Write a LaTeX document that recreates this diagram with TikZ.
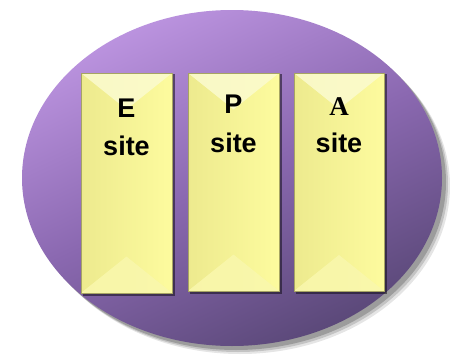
\documentclass[tikz,border=0pt]{standalone}
\usepackage{fontspec}
\setmainfont{Liberation Sans}
\newfontfamily\serifbold{Liberation Serif}
\begin{document}
\begin{tikzpicture}[x=1pt,y=1pt,
  sitebox/.style={inner sep=0pt, outer sep=0pt},
  lbl/.style={anchor=base, inner sep=0pt, font=\fontsize{27}{30}\selectfont\bfseries},
  lblserif/.style={anchor=base, inner sep=0pt, font=\fontsize{27}{30}\selectfont\serifbold\bfseries}]
\useasboundingbox (0,0) rectangle (450,360);
\definecolor{purL}{HTML}{BC94E0}
\definecolor{purM}{HTML}{8A68B0}
\definecolor{purD}{HTML}{5A4878}
\definecolor{yelL}{HTML}{EDEA8E}
\definecolor{yelR}{HTML}{FDFB9E}
\definecolor{yelT}{HTML}{FBFBD0}
\definecolor{yelB}{HTML}{F9F7AC}
% ellipse shadow
\foreach \o/\a in {6/0.10,4/0.15,2/0.2}{
  \fill[black,opacity=\a] (234+\o,180-\o) ellipse [x radius=210, y radius=168];
}
% ellipse body
\shade[top color=purL, bottom color=purD, middle color=purM, shading angle=25]
  (232,182) ellipse [x radius=210, y radius=168];
% boxes
\foreach \n/\xl/\xr/\yb in {e/81/172/67, p/188/279/69, a/294/384/69}{
  \fill[black!80!purD,opacity=0.55] (\xl+1.5,\yb-2.5) rectangle (\xr+2.5,287-1);
  \shade[left color=yelL, right color=yelR] (\xl,\yb) rectangle (\xr,287);
  \fill[yelT,opacity=0.85] (\xl,287) -- (\xr,287) -- ({(\xl+\xr)/2},{287-(\xr-\xl)/2*0.8}) -- cycle;
  \fill[yelB,opacity=0.9] (\xl,\yb) -- (\xr,\yb) -- ({(\xl+\xr)/2},{\yb+(\xr-\xl)/2*0.8}) -- cycle;
  \node[sitebox, minimum width={(\xr-\xl)*1pt}, minimum height={(287-\yb)*1pt}, draw=black!30!yelL, line width=0.3pt]
    (\n) at ({(\xl+\xr)/2},{(287+\yb)/2}) {};
}
% labels
\node[lbl] (eT) at (126.5,243) {E};
\node[lbl] (eS) at (126.5,205) {site};
\node[lbl] (pT) at (233.5,247) {P};
\node[lbl] (pS) at (233.5,208) {site};
\node[lblserif] (aT) at (339,245) {A};
\node[lbl] (aS) at (339,208) {site};
\end{tikzpicture}
\end{document}
